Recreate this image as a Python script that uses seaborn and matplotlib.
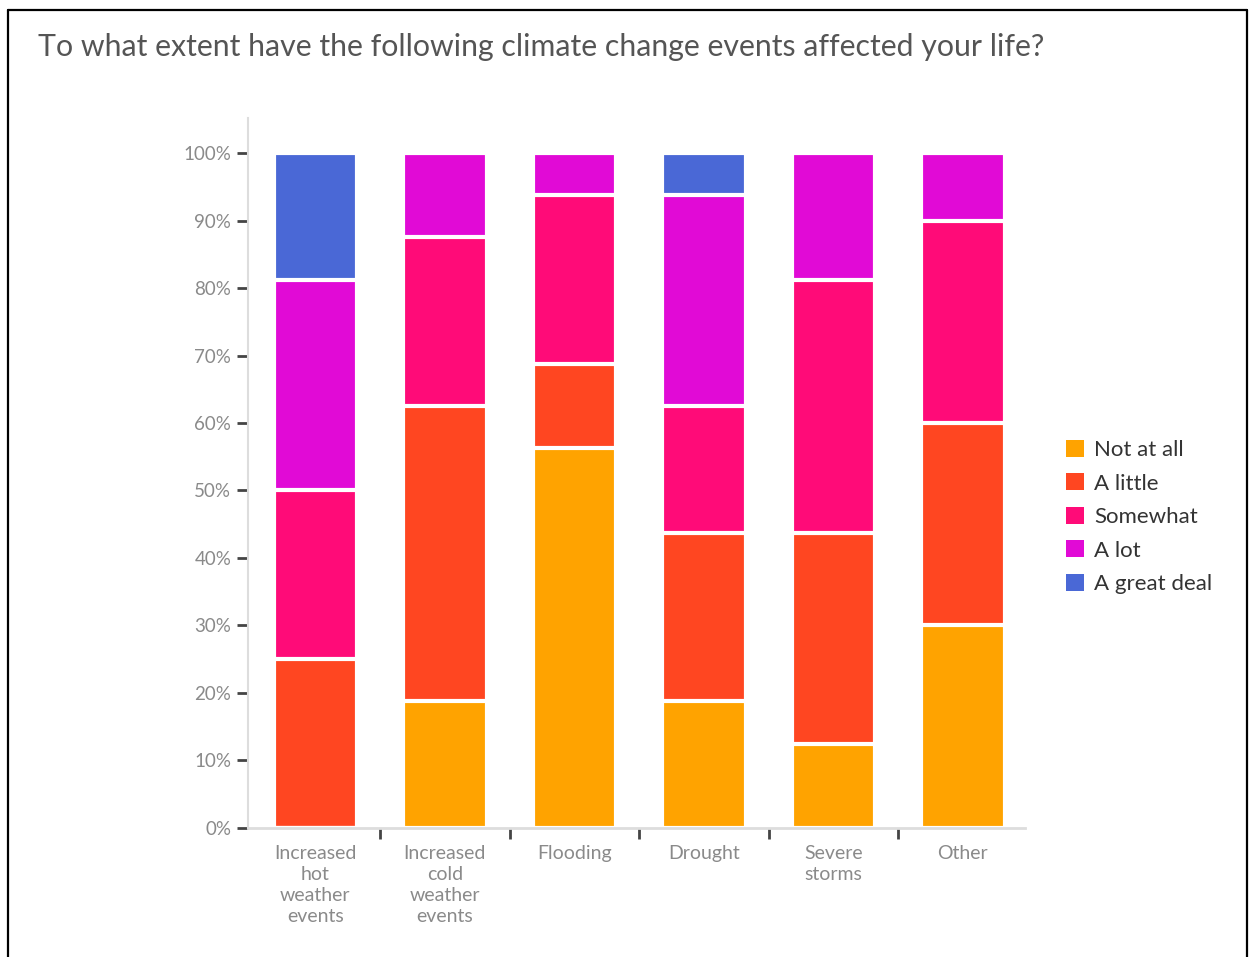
import pandas as pd
import matplotlib.pyplot as plt
import seaborn as sns
from matplotlib.lines import Line2D
from matplotlib.patches import Patch

sns.set_theme(style="white")
plt.rcParams['font.family'] = ['Lato', 'DejaVu Sans']

# survey data (percent of respondents per answer)
events = ["Increased\nhot\nweather\nevents", "Increased\ncold\nweather\nevents",
          "Flooding", "Drought", "Severe\nstorms", "Other"]
levels = ["Not at all", "A little", "Somewhat", "A lot", "A great deal"]
not_at_all = [0, 18.75, 56.25, 18.75, 12.5, 30]
a_little = [25, 43.75, 12.5, 25, 31.25, 30]
somewhat = [25, 25, 25, 18.75, 37.5, 30]
a_lot = [31.25, 12.5, 6.25, 31.25, 18.75, 10]
great_deal = [18.75, 0, 0, 6.25, 0, 0]
colors = ["#ffa300", "#ff4621", "#ff0b78", "#e10ad6", "#4a68d6"]

values = [not_at_all, a_little, somewhat, a_lot, great_deal]
df = pd.DataFrame({
    "event": [e for _ in levels for e in events],
    "level": [l for l in levels for _ in events],
    "pct": [v for series in values for v in series],
})
df["level"] = pd.Categorical(df["level"], categories=levels, ordered=True)
df = df.sort_values(["event", "level"])
df["top"] = df.groupby("event")["pct"].cumsum()

fig = plt.figure(figsize=(12.5, 9.57), dpi=100)
ax = fig.add_axes([0.1984, 0.1348, 0.6216, 0.742])

# tallest layer first so lower layers are painted over it
for level, color in reversed(list(zip(levels, colors))):
    sub = df[df["level"] == level]
    sns.barplot(data=sub, x="event", y="top", order=events, color=color,
                width=0.645, edgecolor="white", linewidth=3, saturation=1,
                ax=ax, zorder=1)

ax.set_xlim(-0.52, 5.48)
ax.set_ylim(0, 105.2)
ax.set_yticks(range(0, 101, 10))
ax.set_yticklabels([f"{t}%" for t in range(0, 101, 10)])
ax.set_xlabel("")
ax.set_ylabel("")

ax.set_xticks([i + 0.5 for i in range(len(events) - 1)], minor=True)
ax.tick_params(axis="x", which="major", length=0, pad=12, labelsize=14, labelcolor="#8a8a8a")
ax.tick_params(axis="x", which="minor", length=8, width=2, color="#444444", direction="out", bottom=True)
ax.tick_params(axis="y", length=8, width=2, color="#444444", direction="out", left=True,
               pad=4, labelsize=13.5, labelcolor="#8a8a8a")
for lab in ax.get_xticklabels():
    lab.set_linespacing(1.3)

for side in ["top", "right"]:
    ax.spines[side].set_visible(False)
ax.spines["left"].set_color("#dddddd")
ax.spines["left"].set_linewidth(1.5)
ax.spines["bottom"].set_color("#dddddd")
ax.spines["bottom"].set_linewidth(2)

fig.text(38 / 1250, 1 - 47 / 957, "To what extent have the following climate change events affected your life?",
         fontsize=21.8, color="#555555", va="center", ha="left")

handles = [Patch(facecolor=c, edgecolor="none") for c in colors]
fig.legend(handles, levels, loc="center left", bbox_to_anchor=(1055 / 1250, 1 - 517 / 957),
           frameon=False, fontsize=16, labelcolor="#333333", handlelength=0.8, handleheight=0.8,
           handletextpad=0.45, labelspacing=0.6, borderpad=0)

# border around the whole picture
border = dict(color="black", linewidth=1.6, transform=fig.transFigure)
fig.add_artist(Line2D([8 / 1250, 8 / 1250], [0, 1 - 10 / 957], **border))
fig.add_artist(Line2D([8 / 1250, 1247 / 1250], [1 - 10 / 957, 1 - 10 / 957], **border))
fig.add_artist(Line2D([1247 / 1250, 1247 / 1250], [0, 1 - 10 / 957], **border))

fig.savefig("out.png", dpi=100)
